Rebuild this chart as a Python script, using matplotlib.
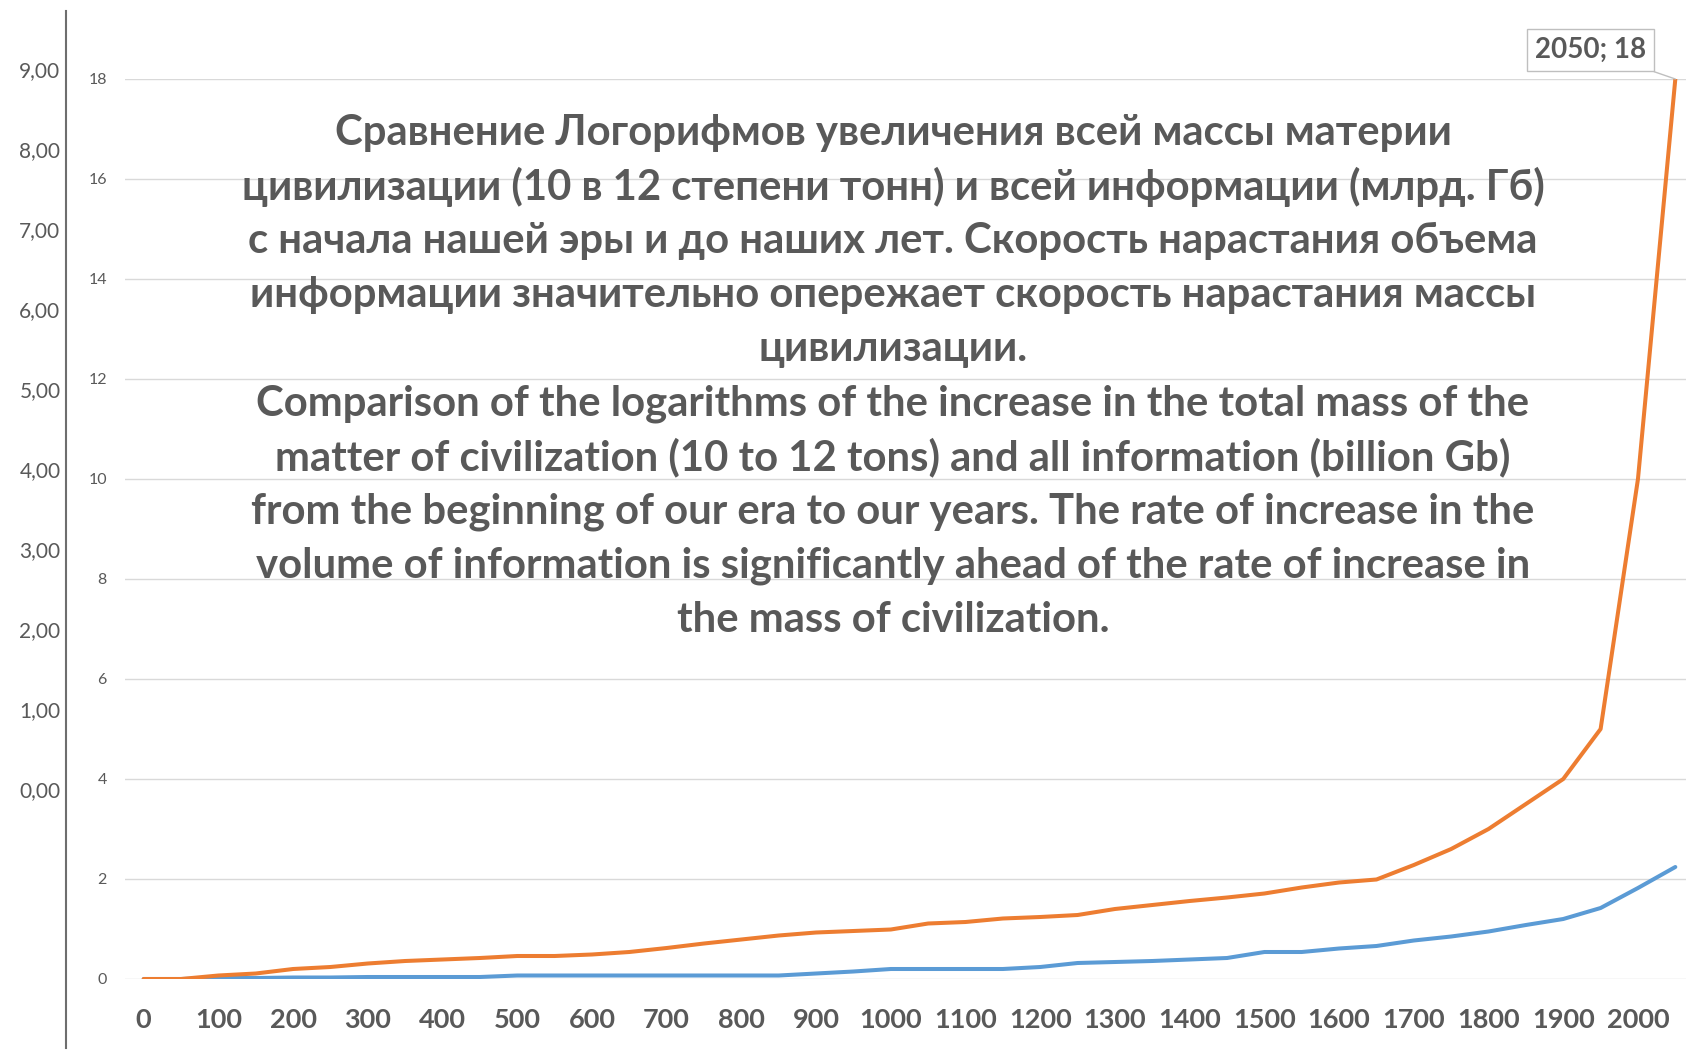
import numpy as np
import matplotlib.pyplot as plt

# DADOS DO GRAFICO
anos = list(range(0, 2051, 50))
massa = [0.0, 0.0, 0.02, 0.02, 0.03, 0.03, 0.04, 0.04, 0.04, 0.04,
         0.07, 0.07, 0.07, 0.07, 0.07, 0.07, 0.07, 0.07, 0.11, 0.15,
         0.2, 0.2, 0.2, 0.2, 0.24, 0.32, 0.34, 0.36, 0.39, 0.42,
         0.54, 0.54, 0.61, 0.66, 0.77, 0.85, 0.95, 1.08, 1.2, 1.42,
         1.82, 2.24]
informacao = [0.0, 0.0, 0.07, 0.11, 0.2, 0.24, 0.31, 0.36, 0.39, 0.42,
              0.46, 0.46, 0.49, 0.54, 0.62, 0.71, 0.79, 0.87, 0.93, 0.96,
              0.99, 1.11, 1.14, 1.21, 1.24, 1.28, 1.4, 1.48, 1.56, 1.63,
              1.71, 1.83, 1.93, 1.99, 2.28, 2.6, 3.0, 3.5, 4.0, 5.0,
              10.0, 18.0]
rotulos_x = list(range(0, 2001, 100))
escala_y = list(range(0, 19, 2))
escala_externa = list(range(0, 10))

titulo = [
    "Сравнение Логорифмов увеличения всей массы материи",
    "цивилизации (10 в 12 степени тонн) и всей информации (млрд. Гб)",
    "с начала нашей эры и до наших лет. Скорость нарастания объема",
    "информации значительно опережает скорость нарастания массы",
    "цивилизации.",
    "Comparison of the logarithms of the increase in the total mass of the",
    "matter of civilization (10 to 12 tons) and all information (billion Gb)",
    "from the beginning of our era to our years. The rate of increase in the",
    "volume of information is significantly ahead of the rate of increase in",
    "the mass of civilization.",
]

plt.rcParams['font.family'] = ['Lato', 'DejaVu Sans']
CINZA = '#595959'
W, H = 1686, 1053

fig = plt.figure(figsize=(W / 100, H / 100), dpi=100)

# EIXO PRINCIPAL (0 - 18)
ax = fig.add_axes([125 / W, (H - 979) / H, (1694 - 125) / W, 900 / H])
ax.plot(anos, massa, color='#5B9BD5', lw=2.9, solid_capstyle='round', zorder=3)
ax.plot(anos, informacao, color='#ED7D31', lw=2.9, solid_capstyle='round', zorder=3)
ax.set_xlim(-25, 2075)
ax.set_ylim(0, 18)
ax.set_yticks(escala_y)
ax.set_xticks(rotulos_x)
ax.set_xticklabels([str(v) for v in rotulos_x], fontweight='bold', fontsize=19.5, color=CINZA)
ax.tick_params(axis='x', length=0, pad=21)
ax.tick_params(axis='y', length=0, pad=13, labelsize=11.5, labelcolor=CINZA)
ax.grid(axis='y', color='#D9D9D9', lw=1)
ax.set_axisbelow(True)
for s in ax.spines.values():
    s.set_visible(False)

# ROTULO DO ULTIMO PONTO
ax.annotate('2050; 18', xy=(2050, 18), xytext=(-61, 21), textcoords='offset points',
            ha='center', va='center', fontsize=20, fontweight='bold', color=CINZA,
            bbox=dict(boxstyle='square,pad=0.3', fc='white', ec='#BFBFBF', lw=1),
            arrowprops=dict(arrowstyle='-', color='#BFBFBF', lw=1,
                            shrinkA=0, shrinkB=0),
            annotation_clip=False, zorder=5)

# EIXO EXTERNO (0,00 - 9,00)
ax2 = fig.add_axes([66 / W, (H - 1048) / H, 0.0001, (1048 - 11) / H])
ax2.set_ylim(-3.24, 9.725)
ax2.set_yticks(escala_externa)
ax2.set_yticklabels([('%.2f' % v).replace('.', ',') for v in escala_externa],
                    fontsize=15, color=CINZA)
ax2.tick_params(axis='y', length=0, pad=4)
ax2.set_xticks([])
for nome, s in ax2.spines.items():
    s.set_visible(nome == 'left')
ax2.spines['left'].set_color('#6E6E6E')
ax2.spines['left'].set_linewidth(1.5)
ax2.patch.set_visible(False)

# TEXTO CENTRAL
for i, linha in enumerate(titulo):
    y = 133 + i * 54.1
    fig.text(893 / W, 1 - y / H, linha, ha='center', va='center',
             fontsize=30.2, fontweight='bold', color=CINZA)

fig.savefig('out.png', dpi=100)
